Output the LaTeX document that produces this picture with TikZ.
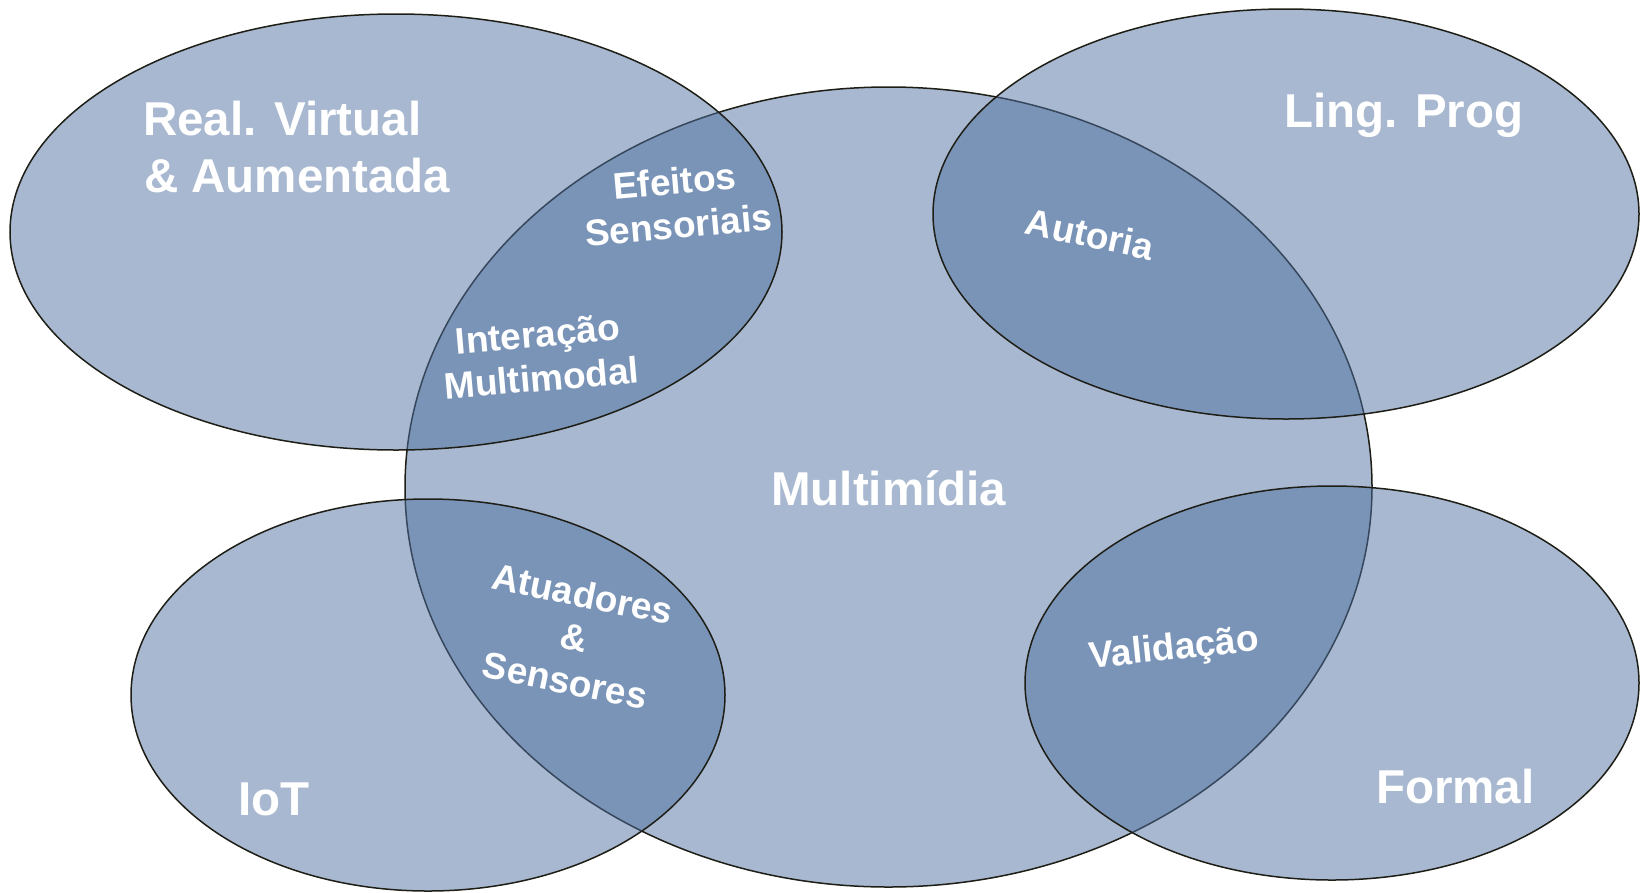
\documentclass[tikz,border=0pt]{standalone}
\usepackage{fontspec}
\setmainfont{Liberation Sans}
\definecolor{setfill}{RGB}{79,113,161}
\definecolor{setline}{RGB}{30,30,22}
\begin{document}
\begin{tikzpicture}[x=1pt,y=-1pt,
  setshape/.style={fill=setfill, fill opacity=0.5, draw=setline, line width=1.5pt},
  biglabel/.style={text=white, font=\bfseries\fontsize{47.5}{53}\selectfont, inner sep=0pt, anchor=base west},
  smalllabel/.style={text=white, font=\bfseries\fontsize{37}{44}\selectfont, inner sep=0pt, align=center}]
\useasboundingbox (0,0) rectangle (1640,892);
% sets
\path[setshape] (888.5,487) ellipse [x radius=483.5pt, y radius=400pt];
\path[setshape] (396,232) ellipse [x radius=386pt, y radius=218pt];
\path[setshape] (1286,214) ellipse [x radius=353pt, y radius=205pt];
\path[setshape] (428,695) ellipse [x radius=297pt, y radius=196pt];
\path[setshape] (1332,683) ellipse [x radius=307pt, y radius=197pt];
% big labels
\node[biglabel] (rv1) at (143,135) {Real. Virtual};
\node[biglabel] (rv2) at (144,192) {\& Aumentada};
\node[biglabel] (lp) at (1284,127) {Ling. Prog};
\node[biglabel] (mm) at (771,505) {Multimídia};
\node[biglabel] (iot) at (238.5,815) {IoT};
\node[biglabel] (fm) at (1376,803) {Formal};
% intersection labels
\node[smalllabel, rotate=5] (es) at (676.5,203) {Efeitos\\Sensoriais};
\node[smalllabel, rotate=5] (im) at (539.5,356) {Interação\\Multimodal};
\node[smalllabel, rotate=-11.5] (as) at (574,637) {Atuadores\\\&\\Sensores};
\node[smalllabel, rotate=-12] (au) at (1090,234) {Autoria};
\node[smalllabel, rotate=6] (va) at (1174,650) {Validação};
\end{tikzpicture}
\end{document}
